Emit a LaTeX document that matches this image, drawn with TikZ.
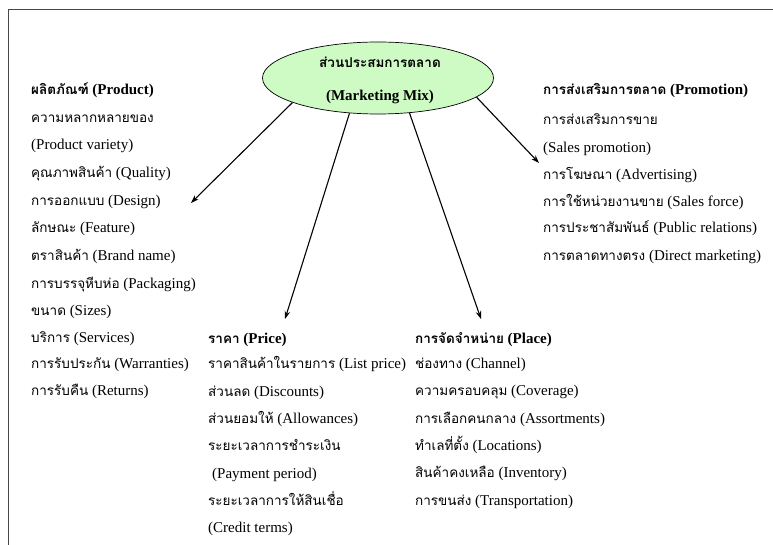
\documentclass[tikz,border=0pt]{standalone}
\usepackage{fontspec}
\setmainfont{Liberation Serif}
\newfontfamily\thaifont[Script=Thai,Scale=0.9]{Loma}
\newcommand\thx[1]{{\thaifont #1}}
\usetikzlibrary{shapes.geometric,arrows.meta}
\definecolor{mixgreen}{RGB}{206,250,196}
\definecolor{framegray}{RGB}{70,70,70}
\tikzset{
  item/.style={anchor=base west, inner sep=0pt, font=\fontsize{15}{17}\selectfont},
  head/.style={item, font=\fontsize{15}{17}\selectfont\bfseries},
  link/.style={line width=1.1pt, -{Stealth[length=8pt,width=5.5pt]}},
  mixbox/.style={ellipse, draw, line width=0.7pt, fill=mixgreen, minimum width=231pt, minimum height=72pt, inner sep=0pt}
}
\begin{document}
\begin{tikzpicture}[x=1pt,y=-1pt]
\useasboundingbox (0,0) rectangle (773,545);
\draw[framegray, line width=1.3pt] (8.5,545) -- (8.5,9.5) -- (773,9.5);

% centre
\node[mixbox] (mm) at (378,78) {};
\node[font=\fontsize{15}{17}\selectfont\bfseries, inner sep=0pt] (mmth) at (380,62) {\thx{ส่วนประสมการตลาด}};
\node[font=\fontsize{15}{17}\selectfont\bfseries, inner sep=0pt] (mmen) at (380,97) {(Marketing Mix)};

% Product
\node[head] (p0)  at (31,95)  {\thx{ผลิตภัณฑ์} (Product)};
\node[item] (p1)  at (31,123) {\thx{ความหลากหลายของ}};
\node[item] (p2)  at (31,150) {(Product variety)};
\node[item] (p3)  at (31,178) {\thx{คุณภาพสินค้า} (Quality)};
\node[item] (p4)  at (31,206) {\thx{การออกแบบ} (Design)};
\node[item] (p5)  at (31,233) {\thx{ลักษณะ} (Feature)};
\node[item] (p6)  at (31,260) {\thx{ตราสินค้า} (Brand name)};
\node[item] (p7)  at (31,288) {\thx{การบรรจุหีบห่อ} (Packaging)};
\node[item] (p8)  at (31,315) {\thx{ขนาด} (Sizes)};
\node[item] (p9)  at (31,342) {\thx{บริการ} (Services)};
\node[item] (p10) at (31,368) {\thx{การรับประกัน} (Warranties)};
\node[item] (p11) at (31,395) {\thx{การรับคืน} (Returns)};

% Price
\node[head] (r0) at (208,343) {\thx{ราคา} (Price)};
\node[item] (r1) at (208,368) {\thx{ราคาสินค้าในรายการ} (List price)};
\node[item] (r2) at (208,396) {\thx{ส่วนลด} (Discounts)};
\node[item] (r3) at (208,423) {\thx{ส่วนยอมให้} (Allowances)};
\node[item] (r4) at (208,450) {\thx{ระยะเวลาการชำระเงิน}};
\node[item] (r5) at (212,478) {(Payment period)};
\node[item] (r6) at (208,505) {\thx{ระยะเวลาการให้สินเชื่อ}};
\node[item] (r7) at (208,532) {(Credit terms)};

% Place
\node[head] (l0) at (415,343) {\thx{การจัดจำหน่าย} (Place)};
\node[item] (l1) at (415,368) {\thx{ช่องทาง} (Channel)};
\node[item] (l2) at (415,395) {\thx{ความครอบคลุม} (Coverage)};
\node[item] (l3) at (415,423) {\thx{การเลือกคนกลาง} (Assortments)};
\node[item] (l4) at (415,450) {\thx{ทำเลที่ตั้ง} (Locations)};
\node[item] (l5) at (415,477) {\thx{สินค้าคงเหลือ} (Inventory)};
\node[item] (l6) at (415,505) {\thx{การขนส่ง} (Transportation)};

% Promotion
\node[head] (m0) at (543,95)  {\thx{การส่งเสริมการตลาด} (Promotion)};
\node[item] (m1) at (543,125) {\thx{การส่งเสริมการขาย}};
\node[item] (m2) at (543,153) {(Sales promotion)};
\node[item] (m3) at (543,180) {\thx{การโฆษณา} (Advertising)};
\node[item] (m4) at (543,207) {\thx{การใช้หน่วยงานขาย} (Sales force)};
\node[item] (m5) at (543,233) {\thx{การประชาสัมพันธ์} (Public relations)};
\node[item] (m6) at (543,260) {\thx{การตลาดทางตรง} (Direct marketing)};

% arrow ends
\coordinate (eP) at (191,203);
\coordinate (eR) at (285,319);
\coordinate (eL) at (481,319);
\coordinate (eM) at (539,163);

\draw[link] (mm.196) -- (eP);
\draw[link] (mm.231) -- (eR);
\draw[link] (mm.312) -- (eL);
\draw[link] (mm.349) -- (eM);
\end{tikzpicture}
\end{document}
